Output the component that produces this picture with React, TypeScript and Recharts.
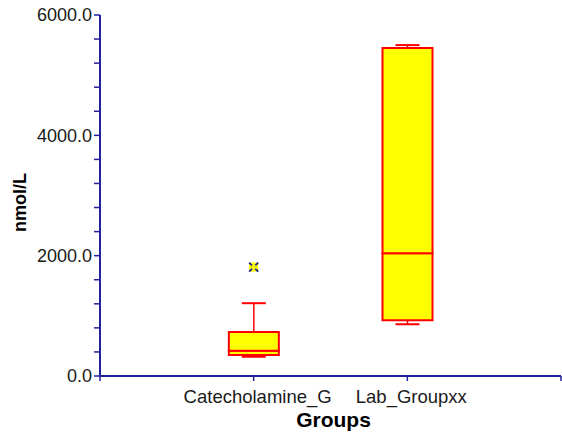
import React from 'react';
import { ComposedChart, Bar, Scatter, XAxis, YAxis, Label } from 'recharts';

const groups = ['Catecholamine_G', 'Lab_Groupxx'];
const positions = [1, 2];
const mins = [320, 860];
const q1s = [350, 925];
const medians = [420, 2040];
const q3s = [730, 5450];
const maxs = [1210, 5500];
const outlierPos = [1];
const outlierVals = [1810];
const yTicks = [0, 400, 800, 1200, 1600, 2000, 2400, 2800, 3200, 3600, 4000, 4400, 4800, 5200, 5600, 6000];
const xTicks = [0, 1, 2, 3];

const rows = positions.map((p, i) => ({
  pos: p,
  base: mins[i],
  lowW: q1s[i] - mins[i],
  lowBox: medians[i] - q1s[i],
  highBox: q3s[i] - medians[i],
  highW: maxs[i] - q3s[i],
}));

const outliers = outlierPos.map((p, i) => ({ pos: p, val: outlierVals[i] }));

const AXIS = '#22229c';
const RED = '#ff0000';
const YEL = '#ffff00';
const FONT = '"Liberation Sans", Arial, Helvetica, sans-serif';
const TXT = '#1a1a1a';

const LowWhisker = (props: any) => {
  const { x, y, width, height } = props;
  const cx = x + width / 2;
  const cap = width * 0.24;
  return (
    <g>
      <line x1={cx} y1={y} x2={cx} y2={y + height} stroke={RED} strokeWidth={1.5} />
      <line x1={cx - cap} y1={y + height} x2={cx + cap} y2={y + height} stroke={RED} strokeWidth={2} />
    </g>
  );
};

const HighWhisker = (props: any) => {
  const { x, y, width, height } = props;
  const cx = x + width / 2;
  const cap = width * 0.24;
  return (
    <g>
      <line x1={cx} y1={y} x2={cx} y2={y + height} stroke={RED} strokeWidth={1.5} />
      <line x1={cx - cap} y1={y} x2={cx + cap} y2={y} stroke={RED} strokeWidth={2} />
    </g>
  );
};

const OutlierShape = (props: any) => {
  const { cx, cy } = props;
  const s = 4.5;
  return (
    <g>
      <rect x={cx - s} y={cy - s} width={2 * s} height={2 * s} fill={YEL} />
      <line x1={cx - s} y1={cy - s} x2={cx + s} y2={cy + s} stroke={AXIS} strokeWidth={1.8} />
      <line x1={cx - s} y1={cy + s} x2={cx + s} y2={cy - s} stroke={AXIS} strokeWidth={1.8} />
      <rect x={cx - 2} y={cy - 2} width={4} height={4} fill={YEL} />
    </g>
  );
};

const YLabel = (props: any) => {
  const { viewBox } = props;
  const x = viewBox.x + 20;
  const y = viewBox.y + viewBox.height / 2 + 7;
  return (
    <text
      x={x}
      y={y}
      transform={`rotate(-90 ${x} ${y})`}
      textAnchor="middle"
      dominantBaseline="central"
      fontFamily={FONT}
      fontWeight="bold"
      fontSize={18}
      fill="#000"
    >
      nmol/L
    </text>
  );
};

export default function App() {
  return (
    <div style={{ position: 'absolute', left: 0, top: 0, width: 562, height: 435, background: '#fff' }}>
      <ComposedChart
        width={562}
        height={435}
        data={rows}
        margin={{ top: 15, right: 1, bottom: 0, left: 0 }}
      >
        <XAxis
          dataKey="pos"
          type="number"
          domain={[0, 3]}
          ticks={xTicks}
          allowDataOverflow
          height={59}
          axisLine={{ stroke: AXIS, strokeWidth: 2 }}
          tickLine={{ stroke: AXIS, strokeWidth: 1.5 }}
          tickSize={5}
          tickMargin={9}
          tick={{ fill: TXT, fontSize: 18.5, fontFamily: FONT, dx: 4 }}
          tickFormatter={(v: number) => (v >= 1 && v <= groups.length ? groups[v - 1] : '')}
        >
          <Label
            value="Groups"
            position="insideBottom"
            offset={8}
            dx={3}
            style={{ fontFamily: FONT, fontWeight: 'bold', fontSize: 21, fill: '#000' }}
          />
        </XAxis>
        <YAxis
          type="number"
          domain={[0, 6000]}
          ticks={yTicks}
          width={100}
          allowDataOverflow
          axisLine={{ stroke: AXIS, strokeWidth: 2 }}
          tickLine={{ stroke: AXIS, strokeWidth: 1.5 }}
          tickSize={6}
          tickMargin={2}
          tick={{ fill: TXT, fontSize: 18, fontFamily: FONT }}
          tickFormatter={(v: number) => (v % 2000 === 0 ? v.toFixed(1) : '')}
          interval={0}
          label={<YLabel />}
        />
        <Bar dataKey="base" stackId="a" barSize={50} fill="none" isAnimationActive={false} />
        <Bar dataKey="lowW" stackId="a" barSize={50} shape={<LowWhisker />} isAnimationActive={false} />
        <Bar dataKey="lowBox" stackId="a" barSize={50} fill={YEL} stroke={RED} strokeWidth={2} isAnimationActive={false} />
        <Bar dataKey="highBox" stackId="a" barSize={50} fill={YEL} stroke={RED} strokeWidth={2} isAnimationActive={false} />
        <Bar dataKey="highW" stackId="a" barSize={50} shape={<HighWhisker />} isAnimationActive={false} />
        <Scatter data={outliers} dataKey="val" shape={<OutlierShape />} isAnimationActive={false} />
      </ComposedChart>
    </div>
  );
}
